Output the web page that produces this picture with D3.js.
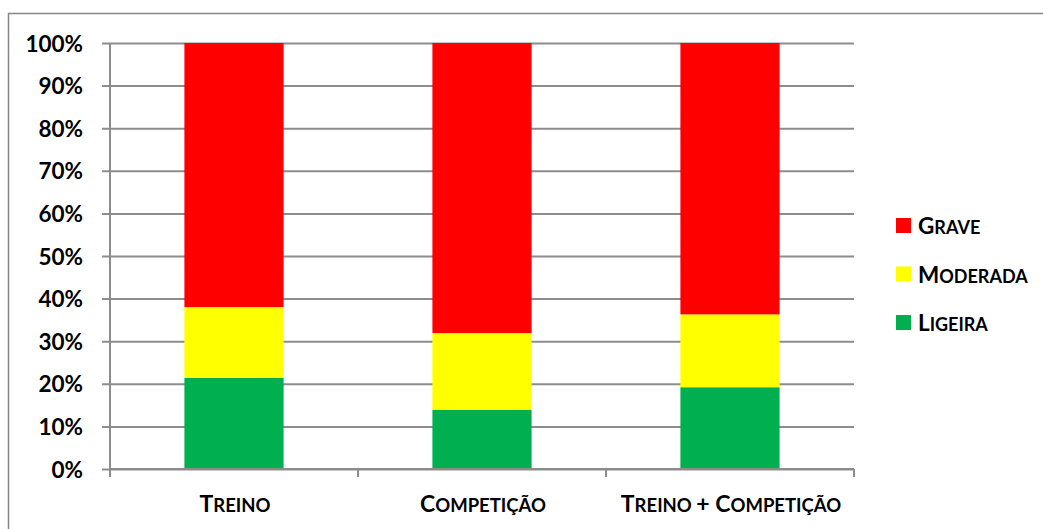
<!DOCTYPE html>
<html>
<head>
<meta charset="utf-8">
<script src="https://cdn.jsdelivr.net/npm/d3@7"></script>
<style>
  html, body { margin: 0; padding: 0; background: #fff; }
  svg { display: block; }
  text { font-family: Lato, "Open Sans", "DejaVu Sans", sans-serif; font-weight: 700; fill: #000; }
</style>
</head>
<body>
<svg id="chart" width="1043" height="529"></svg>
<script>
// Categories and stacked shares (percent of each category total)
const categories = ["Treino", "Competição", "Treino + Competição"];
const ligeira  = [21.4, 13.9, 19.2];
const moderada = [16.6, 18.0, 17.1];
const grave    = [62.0, 68.1, 63.7];
const seriesNames  = ["Ligeira", "Moderada", "Grave"];
const seriesColors = ["#00b050", "#ffff00", "#ff0000"];
const yTicks = [0, 0.1, 0.2, 0.3, 0.4, 0.5, 0.6, 0.7, 0.8, 0.9, 1.0];

const svg = d3.select("#chart");
const W = 1043, H = 529;

// outer chart frame
svg.append("rect")
  .attr("x", 8.5).attr("y", 13.5)
  .attr("width", W).attr("height", H)
  .attr("fill", "#fff").attr("stroke", "#868686").attr("stroke-width", 1.5);

const plot = { left: 110, right: 854, top: 43, bottom: 469 };

const x = d3.scaleBand().domain(categories).range([plot.left, plot.right]).paddingInner(0.6).paddingOuter(0.3);
const y = d3.scaleLinear().domain([0, 1]).range([plot.bottom, plot.top]);

// rows of the stack
const rows = categories.map((c, i) => ({ cat: c, Ligeira: ligeira[i], Moderada: moderada[i], Grave: grave[i] }));
const stack = d3.stack().keys(seriesNames).offset(d3.stackOffsetExpand);
const layers = stack(rows);

const gridColor = "#8c8c8c";

// horizontal gridlines with outward tick marks
const yAxis = d3.axisLeft(y).tickValues(yTicks).tickSize(-(plot.right - plot.left)).tickFormat(d3.format(".0%"));
const gy = svg.append("g").attr("transform", `translate(${plot.left},0)`).call(yAxis);
gy.select(".domain").remove();
gy.selectAll(".tick line").attr("x1", -8).attr("stroke", gridColor).attr("stroke-width", 2);
gy.selectAll(".tick text").attr("x", -27).attr("dy", "0.36em").style("font-size", "22.5px").attr("fill", "#000");

// bars
svg.append("g").selectAll("g").data(layers).join("g")
  .attr("fill", (d, i) => seriesColors[i])
  .selectAll("rect").data(d => d).join("rect")
  .attr("x", d => x(d.data.cat))
  .attr("width", x.bandwidth())
  .attr("y", d => y(d[1]))
  .attr("height", d => y(d[0]) - y(d[1]));

// vertical axis line and category axis
const ga = svg.append("g");
ga.append("line").attr("x1", plot.left).attr("x2", plot.left).attr("y1", plot.top).attr("y2", plot.bottom + 8)
  .attr("stroke", gridColor).attr("stroke-width", 2);
ga.append("line").attr("x1", plot.left).attr("x2", plot.right).attr("y1", plot.bottom).attr("y2", plot.bottom)
  .attr("stroke", gridColor).attr("stroke-width", 2);
const step = (plot.right - plot.left) / categories.length;
const bounds = d3.range(categories.length + 1).map(i => plot.left + i * step);
ga.selectAll("line.ct").data(bounds).join("line").attr("class", "ct")
  .attr("x1", d => d).attr("x2", d => d).attr("y1", plot.bottom).attr("y2", plot.bottom + 8)
  .attr("stroke", gridColor).attr("stroke-width", 2);

// small-caps text helper: first letter of each word full size, the rest smaller
function smallCaps(sel, str, big, small) {
  const words = str.split(" ");
  words.forEach((w, wi) => {
    const sep = wi < words.length - 1 ? " " : "";
    if (/^[A-Za-zÀ-ÿ]/.test(w)) {
      sel.append("tspan").style("font-size", big + "px").text(w[0].toUpperCase());
      if (w.length > 1) sel.append("tspan").style("font-size", small + "px").text(w.slice(1).toUpperCase() + sep);
      else sel.append("tspan").style("font-size", small + "px").text(sep);
    } else {
      sel.append("tspan").style("font-size", big + "px").text(w + sep);
    }
  });
}

// category labels
categories.forEach(c => {
  const t = svg.append("text")
    .attr("x", x(c) + x.bandwidth() / 2 + 1)
    .attr("y", 512)
    .attr("text-anchor", "middle");
  smallCaps(t, c, 23, 18.5);
});

// legend (top to bottom: Grave, Moderada, Ligeira)
const legendRows = [2, 1, 0];
const lg = svg.append("g");
legendRows.forEach((si, k) => {
  const base = 234 + k * 48.5;
  lg.append("rect").attr("x", 896).attr("y", base - 16).attr("width", 15).attr("height", 15).attr("fill", seriesColors[si]);
  const t = lg.append("text").attr("x", 918).attr("y", base);
  smallCaps(t, seriesNames[si], 22.5, 18);
});
</script>
</body>
</html>
